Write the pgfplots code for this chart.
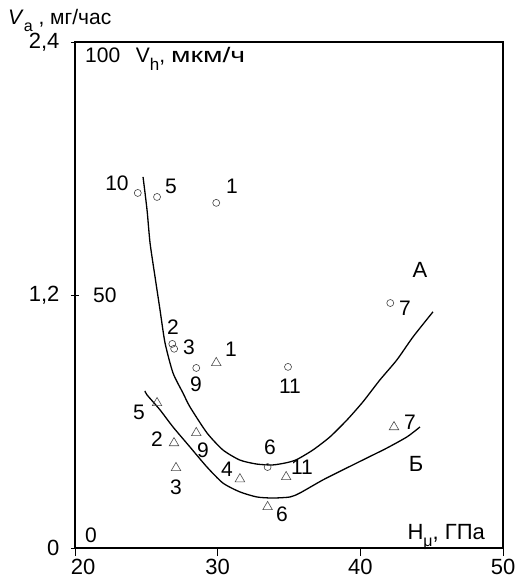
\documentclass[border=0pt]{standalone}
\usepackage{pgfplots}
\pgfplotsset{compat=1.18}
\usepackage{fontspec}
\setmainfont{Liberation Sans}
\newcommand{\fs}{\fontsize{21}{24}\selectfont}
\newcommand{\ft}{\fontsize{22}{25}\selectfont}
\begin{document}
\begin{tikzpicture}
\useasboundingbox (-75pt,-33pt) rectangle (444pt,548pt);
\begin{axis}[
  scale only axis, width=428pt, height=506pt,
  xmin=20, xmax=50, ymin=0, ymax=2.4,
  xtick={20,30,40,50}, xticklabels={\hbox to 0pt{\hskip-4pt 20\hss},30,40,50},
  ytick={0,1.2,2.4}, yticklabels={0,{1,2},{2,4}},
  xtick pos=bottom, ytick pos=left,
  xtick align=outside, ytick align=center,
  major tick length=8pt,
  tick style={black, line width=0.9pt},
  axis line style={line width=1.1pt},
  /pgf/number format/assume math mode=true,
  tick label style={font=\ft},
  xticklabel style={yshift=0pt},
  yticklabel style={xshift=-8pt},
  clip=false,
]
% curve A
\addplot[black, line width=1.3pt, smooth, tension=0.4] coordinates {
(24.77,1.76) (25.05,1.603) (25.26,1.447) (25.61,1.286) (25.96,1.129) (26.31,0.973)
(26.87,0.83) (27.57,0.735) (28.06,0.669) (29.25,0.546) (30.37,0.465) (31.56,0.417)
(32.75,0.398) (33.87,0.394) (34.86,0.405) (35.56,0.42) (36.68,0.465) (37.87,0.527)
(39.06,0.607) (40.18,0.693) (41.37,0.797) (42.56,0.892) (43.69,1.001) (45.09,1.12)};
% curve B
\addplot[black, line width=1.3pt, smooth, tension=0.4] coordinates {
(24.9,0.745) (25.05,0.726) (25.96,0.655) (26.87,0.574) (28.06,0.479) (29.25,0.384) (30.37,0.308)
(31.56,0.266) (32.75,0.242) (33.87,0.237) (35.07,0.242) (35.77,0.261) (37.38,0.323)
(39.06,0.380) (40.46,0.427) (41.86,0.474) (43.27,0.527) (44.18,0.574)};
% circles
\addplot[only marks, mark=o, mark size=3.5pt, black!75, line width=0.6pt] coordinates {
(24.4,1.684) (25.75,1.665) (29.9,1.637) (26.82,0.968) (26.95,0.945) (28.5,0.854)
(34.93,0.859) (33.5,0.384) (42.1,1.162)};
% triangles
\addplot[only marks, mark=triangle, mark size=5.5pt, black!70, line width=0.6pt] coordinates {
(29.9,0.878) (25.75,0.688) (26.94,0.498) (28.5,0.546) (27.08,0.38) (31.56,0.327)
(34.8,0.337) (33.5,0.195) (42.36,0.574)};
\begin{scope}[every node/.style={font=\fs, inner sep=0pt}]
% point labels (circles)
\node at (axis cs:22.94,1.731) {10};
\node at (axis cs:26.73,1.713) {5};
\node at (axis cs:31.0,1.717) {1};
\node at (axis cs:26.87,1.048) {2};
\node at (axis cs:27.99,0.954) {3};
\node at (axis cs:28.48,0.778) {9};
\node at (axis cs:35.07,0.769) {11};
\node at (axis cs:33.67,0.48) {6};
\node at (axis cs:43.13,1.139) {7};
% triangle labels
\node at (axis cs:30.93,0.944) {1};
\node at (axis cs:24.48,0.645) {5};
\node at (axis cs:25.75,0.517) {2};
\node at (axis cs:28.97,0.465) {9};
\node at (axis cs:27.08,0.289) {3};
\node at (axis cs:30.65,0.375) {4};
\node at (axis cs:35.91,0.384) {11};
\node at (axis cs:34.51,0.161) {6};
\node at (axis cs:43.48,0.598) {7};
\node[font=\ft] at (axis cs:44.18,1.319) {А};
\node[font=\ft] at (axis cs:43.9,0.4) {Б};
% axis texts
\node[anchor=west] at (rel axis cs:0,0.5) [xshift=18pt] {50};
\node[anchor=south west] at (rel axis cs:0,0) [xshift=10pt, yshift=5pt] {0};
\node[anchor=base west] at (rel axis cs:0,1) [xshift=10pt, yshift=-21pt] {100\hspace{0.75em}V\raisebox{-0.35em}{\fontsize{17}{17}\selectfont h}, \scalebox{1.35}[1]{мкм/ч}};
\node[anchor=base east] at (rel axis cs:1,0) [xshift=-18pt, yshift=9pt] {\fontsize{22}{25}\selectfont H\raisebox{-0.35em}{\fontsize{16}{16}\selectfont μ}, ГПа};
\node[anchor=base west] at (rel axis cs:0,1) [xshift=-67pt, yshift=17pt] {\textit{V}\raisebox{-0.3em}{\fontsize{16}{16}\selectfont a} , мг/час};
\end{scope}
\end{axis}
\end{tikzpicture}
\end{document}
